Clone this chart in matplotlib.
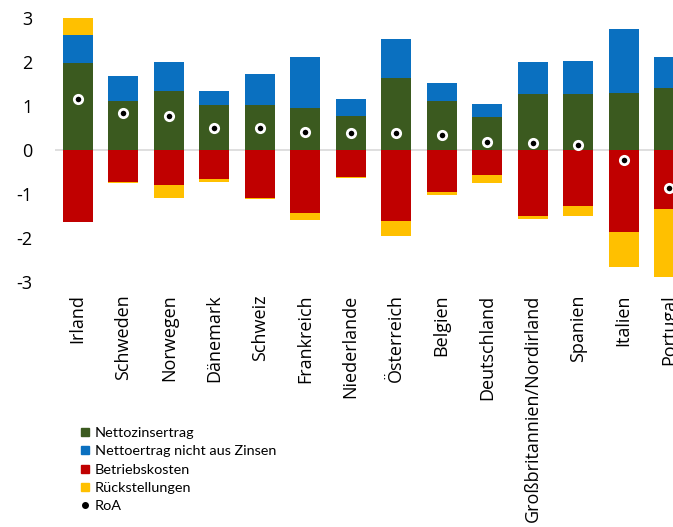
import matplotlib
matplotlib.use("Agg")
import matplotlib.pyplot as plt
from matplotlib.lines import Line2D
import numpy as np

countries = ["Irland", "Schweden", "Norwegen", "Dänemark", "Schweiz", "Frankreich",
             "Niederlande", "Österreich", "Belgien", "Deutschland",
             "Großbritannien/Nordirland", "Spanien", "Italien", "Portugal"]
nettozins = [1.97, 1.11, 1.34, 1.02, 1.02, 0.95, 0.78, 1.64, 1.11, 0.74, 1.27, 1.27, 1.29, 1.40]
nettoertrag = [0.64, 0.57, 0.67, 0.33, 0.70, 1.17, 0.39, 0.88, 0.41, 0.31, 0.74, 0.75, 1.45, 0.71]
betriebskosten = [-1.64, -0.72, -0.80, -0.67, -1.10, -1.44, -0.61, -1.61, -0.96, -0.57, -1.49, -1.27, -1.87, -1.33]
rueckstellungen = [0.38, -0.02, -0.28, -0.06, -0.02, -0.14, -0.03, -0.35, -0.06, -0.19, -0.08, -0.22, -0.78, -1.55]
roa = [1.17, 0.85, 0.77, 0.51, 0.49, 0.40, 0.39, 0.39, 0.33, 0.18, 0.17, 0.12, -0.23, -0.86]
yticks = [-3, -2, -1, 0, 1, 2, 3]
legend_labels = ["Nettozinsertrag", "Nettoertrag nicht aus Zinsen", "Betriebskosten",
                 "Rückstellungen", "RoA"]

c_green = "#3b5a1f"
c_blue = "#0a70c0"
c_red = "#c00000"
c_yellow = "#ffc000"

W, H = 673, 527
fig = plt.figure(figsize=(W / 100, H / 100), dpi=100)
ax_left, ax_right, ax_top, ax_bot = 55, 692, 18, 282
ax = fig.add_axes([ax_left / W, 1 - ax_bot / H, (ax_right - ax_left) / W, (ax_bot - ax_top) / H])

x = np.arange(len(countries))
nz = np.array(nettozins)
ne = np.array(nettoertrag)
bk = np.array(betriebskosten)
rs = np.array(rueckstellungen)
bw = 0.66

ax.axhline(0, color="#d9d9d9", lw=1.2, zorder=1)
ax.bar(x, nz, bw, color=c_green, zorder=2)
ax.bar(x, ne, bw, bottom=nz, color=c_blue, zorder=2)
ax.bar(x, bk, bw, color=c_red, zorder=2)
pos_r = np.where(rs > 0, rs, 0)
neg_r = np.where(rs < 0, rs, 0)
ax.bar(x, pos_r, bw, bottom=nz + ne, color=c_yellow, zorder=2)
ax.bar(x, neg_r, bw, bottom=bk, color=c_yellow, zorder=2)
ax.plot(x, roa, "o", color="black", markersize=6, markeredgecolor="white",
        markeredgewidth=2, zorder=3, linestyle="none")

ax.set_xlim(-0.5, len(countries) - 0.5)
ax.set_ylim(-3, 3)
ax.set_yticks(yticks)
ax.set_yticklabels([str(t) for t in yticks], family="Open Sans", fontsize=13)
ax.set_xticks(x)
ax.set_xticklabels(countries, rotation=90, family="Open Sans", fontsize=13, va="top")
ax.tick_params(axis="both", length=0)
ax.tick_params(axis="y", pad=16)
ax.tick_params(axis="x", pad=9)
for s in ax.spines.values():
    s.set_visible(False)

handles = [
    Line2D([], [], marker="s", color=c_green, linestyle="none", markersize=6),
    Line2D([], [], marker="s", color=c_blue, linestyle="none", markersize=6),
    Line2D([], [], marker="s", color=c_red, linestyle="none", markersize=6),
    Line2D([], [], marker="s", color=c_yellow, linestyle="none", markersize=6),
    Line2D([], [], marker="o", color="black", linestyle="none", markersize=4),
]
fig.legend(handles, legend_labels, loc="upper left", bbox_to_anchor=(81 / W, 1 - 427 / H),
           frameon=False, prop={"family": "Lato", "size": 10.4}, handlelength=0.6,
           handletextpad=0.35, labelspacing=0.43, borderpad=0, borderaxespad=0)

fig.savefig("out.png", dpi=100)
